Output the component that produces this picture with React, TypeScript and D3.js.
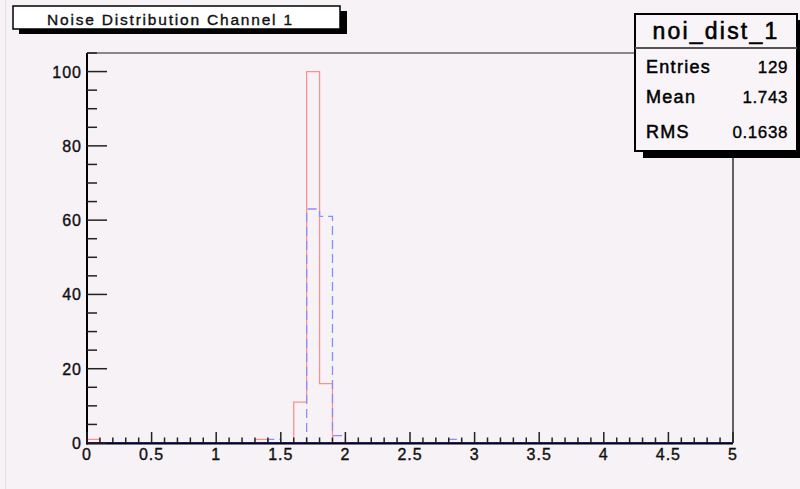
import React, { useEffect } from "react";
import * as d3 from "d3";

const binEdgesStart = 0;
const binWidth = 0.1;
const nBins = 50;
// non-zero bins: [bin index, count]
const redBins: [number, number][] = [[0, 1], [13, 1], [16, 11], [17, 100], [18, 16]];
const blueBins: [number, number][] = [[14, 1], [17, 63], [18, 61], [19, 2], [28, 1]];
const xTickLabels = ["0", "0.5", "1", "1.5", "2", "2.5", "3", "3.5", "4", "4.5", "5"];
const yTickValues = [0, 20, 40, 60, 80, 100];
const titleText = "Noise Distribution Channel 1";
const statsName = "noi_dist_1";
const statsLabels = ["Entries", "Mean", "RMS"];
const statsValues = ["129", "1.743", "0.1638"];

const W = 800, H = 489;
const L = 87, R = 733, T = 53, B = 443;
const font = "'Liberation Sans', Arial, Helvetica, sans-serif";
const bolden = { stroke: "#000", strokeWidth: 0.35, paintOrder: "stroke" } as any;

function counts(bins: [number, number][]) {
  const c = new Array(nBins).fill(0);
  bins.forEach(([i, v]) => (c[i] = v));
  return c;
}

export default function App() {
  useEffect(() => {
    document.body.style.margin = "0";
  }, []);
  const x = d3.scaleLinear().domain([0, 5]).range([L, R]);
  const y = d3.scaleLinear().domain([0, 105]).range([B, T]);

  const stepPath = (c: number[]) => {
    const pts: [number, number][] = [[binEdgesStart, 0]];
    c.forEach((v, i) => {
      const x0 = binEdgesStart + i * binWidth;
      pts.push([x0, v]);
      pts.push([x0 + binWidth, v]);
    });
    pts.push([binEdgesStart + nBins * binWidth, 0]);
    return d3.line<[number, number]>().x((d) => x(d[0])).y((d) => y(d[1]))(pts) || "";
  };

  const xMinor = d3.range(0, 51).map((i) => i * 0.1);
  const yMinor = d3.range(0, 22).map((i) => i * 5);

  return (
    <svg width={W} height={H} style={{ position: "absolute", left: 0, top: 0, display: "block" }}>
      <rect x={0} y={0} width={W} height={H} fill="#f6f2f6" />
      <line x1={5.5} x2={5.5} y1={0} y2={H} stroke="#e4e0e4" />

      {/* frame */}
      <line x1={L} x2={R} y1={T} y2={T} stroke="#666" strokeWidth={1.5} />
      <line x1={R} x2={R} y1={T} y2={B} stroke="#333" strokeWidth={1.5} />

      {/* histograms */}
      <path d={stepPath(counts(redBins))} fill="none" stroke="#ff9090" strokeWidth={1.3} />
      <path d={stepPath(counts(blueBins))} fill="none" stroke="#8c8cff" strokeWidth={1.3} strokeDasharray="9,5" />

      {/* axes */}
      <line x1={L} x2={R} y1={B - 0.5} y2={B - 0.5} stroke="#1a1a80" strokeWidth={1} />
      <line x1={L} x2={R} y1={B + 0.7} y2={B + 0.7} stroke="#000" strokeWidth={1.5} />
      <line x1={L} x2={L} y1={T} y2={B + 1.5} stroke="#000" strokeWidth={2} />

      {xMinor.map((v, i) => (
        <line key={"xt" + i} x1={x(v)} x2={x(v)} y1={B} y2={B - (i % 5 === 0 ? 11 : 5.5)} stroke="#222" strokeWidth={1.5} />
      ))}
      {yMinor.map((v, i) => (
        <line key={"yt" + i} x1={L} x2={L + (i % 4 === 0 ? 20 : 10)} y1={y(v)} y2={y(v)} stroke="#222" strokeWidth={1.5} />
      ))}

      {xTickLabels.map((t, i) => (
        <text key={"xl" + i} x={x(i * 0.5)} y={460} textAnchor="middle" fontFamily={font} fontSize={16} letterSpacing={1} fill="#111" {...bolden}>
          {t}
        </text>
      ))}
      {yTickValues.map((v) => (
        <text key={"yl" + v} x={82} y={y(v) + 6} textAnchor="end" fontFamily={font} fontSize={16} letterSpacing={1} fill="#111" {...bolden}>
          {v}
        </text>
      ))}

      {/* title box */}
      <rect x={19} y={11} width={328} height={23} fill="#000" />
      <rect x={13} y={6} width={327} height={23} fill="#fff" stroke="#000" strokeWidth={1.5} />
      <text x={47} y={25} fontFamily={font} fontSize={15.5} letterSpacing={1.8} fill="#111" {...bolden}>
        {titleText}
      </text>

      {/* stats box */}
      <rect x={643} y={20} width={160} height={138} fill="#000" />
      <rect x={635} y={14} width={162} height={137} fill="#f8f4f8" stroke="#000" strokeWidth={2} />
      <line x1={635} x2={797} y1={48} y2={48} stroke="#555" strokeWidth={2} />
      <text x={716} y={39} textAnchor="middle" fontFamily={font} fontSize={23} letterSpacing={2.2} fill="#000" {...bolden} strokeWidth={0.6}>
        {statsName}
      </text>
      {statsLabels.map((s, i) => (
        <text key={"sl" + i} x={646} y={[73, 103, 138][i]} fontFamily={font} fontSize={18} letterSpacing={1.3} fill="#000" {...bolden} strokeWidth={0.5}>
          {s}
        </text>
      ))}
      {statsValues.map((s, i) => (
        <text key={"sv" + i} x={788} y={[73, 103, 138][i]} textAnchor="end" fontFamily={font} fontSize={17} letterSpacing={0.6} fill="#000" {...bolden}>
          {s}
        </text>
      ))}
    </svg>
  );
}
